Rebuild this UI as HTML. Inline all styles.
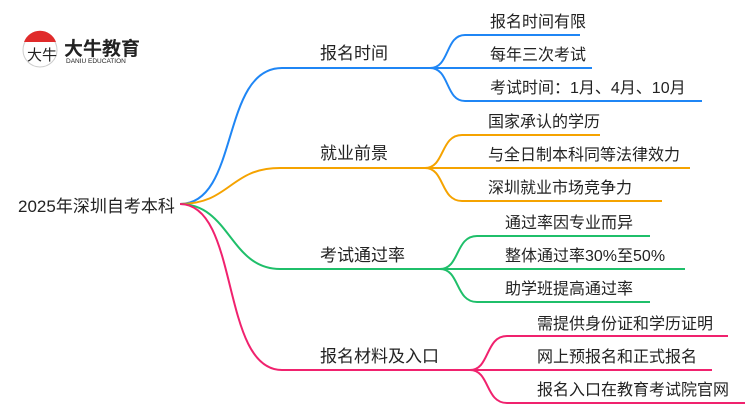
<!DOCTYPE html>
<html><head><meta charset="utf-8"><style>
body{margin:0;width:750px;height:410px;background:#fff;overflow:hidden}
svg text{font-family:"Liberation Sans","Noto Sans CJK SC",sans-serif;fill:#222}
</style></head><body>
<svg width="750" height="410" viewBox="0 0 750 410" xmlns="http://www.w3.org/2000/svg">
<g fill="none" stroke-width="2">
<g stroke="#1f86f5">
<path d="M180,204 C240,204 220,68 282,68 H430"/>
<path d="M430,68 C450,68 445,35 465,35 H580"/>
<path d="M430,68 H592"/>
<path d="M430,68 C450,68 445,101 465,101 H702"/>
</g>
<g stroke="#f5a300">
<path d="M180,204 C230,204 230,168 280,168 H425"/>
<path d="M425,168 C445,168 440,135 462,135 H600"/>
<path d="M425,168 H690"/>
<path d="M425,168 C445,168 440,201 462,201 H662"/>
</g>
<g stroke="#1fbf6a">
<path d="M180,204 C230,204 230,269 280,269 H440"/>
<path d="M440,269 C460,269 455,236 477,236 H650"/>
<path d="M440,269 H685"/>
<path d="M440,269 C460,269 455,302 477,302 H650"/>
</g>
<g stroke="#f0226e">
<path d="M180,204 C240,204 220,370 282,370 H470"/>
<path d="M470,370 C490,370 485,336 507,336 H728"/>
<path d="M470,370 H712"/>
<path d="M470,370 C490,370 485,403 507,403 H745"/>
</g>
</g>
<circle cx="40" cy="50" r="17" fill="#fff" stroke="#ccc"/>
<path d="M24,42 A17,17 0 0 1 56,42 Z" fill="#e02b2b"/>
<text x="27" y="60" font-size="15">大牛</text>
<text x="64" y="55" font-size="19" font-weight="bold">大牛教育</text>
<text x="66" y="63" font-size="6.5">DANIU EDUCATION</text>
<text x="18" y="212" font-size="17">2025年深圳自考本科</text>
<g font-size="17">
<text x="320" y="59">报名时间</text>
<text x="320" y="159">就业前景</text>
<text x="320" y="261">考试通过率</text>
<text x="320" y="362">报名材料及入口</text>
</g>
<g font-size="16">
<text x="490" y="27">报名时间有限</text>
<text x="490" y="60">每年三次考试</text>
<text x="490" y="93">考试时间：1月、4月、10月</text>
<text x="488" y="127">国家承认的学历</text>
<text x="488" y="160">与全日制本科同等法律效力</text>
<text x="488" y="193">深圳就业市场竞争力</text>
<text x="505" y="228">通过率因专业而异</text>
<text x="505" y="261">整体通过率30%至50%</text>
<text x="505" y="294">助学班提高通过率</text>
<text x="537" y="329">需提供身份证和学历证明</text>
<text x="537" y="362">网上预报名和正式报名</text>
<text x="537" y="395">报名入口在教育考试院官网</text>
</g>
</svg>
</body></html>
